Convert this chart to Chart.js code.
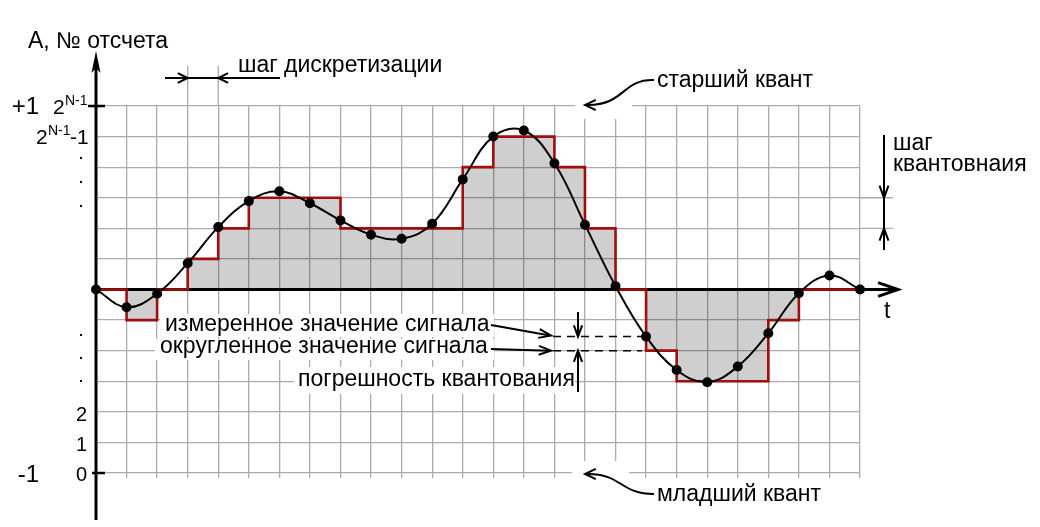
<!DOCTYPE html>
<html>
<head>
<meta charset="utf-8">
<script src="https://cdn.jsdelivr.net/npm/chart.js@4.4.1/dist/chart.umd.min.js"></script>
<style>
  html, body { margin: 0; padding: 0; background: #fff; }
  #wrap { width: 1040px; height: 527px; }
</style>
</head>
<body>
<div id="wrap"><canvas id="quantChart" width="1040" height="527"></canvas></div>
<script>
// sample numbers along t
const sampleNo = [0, 1, 2, 3, 4, 5, 6, 7, 8, 9, 10, 11, 12, 13, 14, 15, 16, 17, 18, 19, 20, 21, 22, 23, 24, 25];
// measured signal at each sample (in quantization steps)
const measured = [0, -0.58, -0.14, 0.86, 2.04, 2.89, 3.21, 2.82, 2.26, 1.79, 1.66, 2.15, 3.6, 5.0, 5.2, 4.13, 2.12, 0.11, -1.54, -2.63, -3.03, -2.52, -1.43, -0.12, 0.46, 0];
// rounded (quantized) value held until next sample
const rounded = [0, -1, 0, 1, 2, 3, 3, 3, 2, 2, 2, 2, 4, 5, 5, 4, 2, 0, -2, -3, -3, -3, -1, 0, 0, 0];
// y levels: -6 .. +6
const levelMin = -6;
const levelMax = 6;

const FONT = '"Liberation Sans", Arial, sans-serif';
const gridColor = '#ababab';

function chevron(ctx, x, y, ang, len, spread) {
    ctx.beginPath();
    ctx.moveTo(x - len * Math.cos(ang - spread), y - len * Math.sin(ang - spread));
    ctx.lineTo(x, y);
    ctx.lineTo(x - len * Math.cos(ang + spread), y - len * Math.sin(ang + spread));
    ctx.stroke();
}

function line(ctx, x1, y1, x2, y2) {
    ctx.beginPath();
    ctx.moveTo(x1, y1);
    ctx.lineTo(x2, y2);
    ctx.stroke();
}

const overlay = {
    id: 'overlay',
    beforeDatasetsDraw(chart) {
        const ctx = chart.ctx;
        const xs = chart.scales.x, ys = chart.scales.y;
        ctx.save();
        // white patches behind labels
        ctx.fillStyle = '#fff';
        ctx.fillRect(575, 94, 57, 25);
        ctx.fillRect(572, 461, 57, 25);
        ctx.fillRect(160, 314, 334, 23);
        ctx.fillRect(155, 339, 339, 21);
        ctx.fillRect(294, 367, 281, 27);
        // extended grid lines
        ctx.strokeStyle = gridColor;
        ctx.lineWidth = 1.3;
        line(ctx, xs.getPixelForValue(3), ys.getPixelForValue(levelMax), xs.getPixelForValue(3), 66);
        line(ctx, xs.getPixelForValue(4), ys.getPixelForValue(levelMax), xs.getPixelForValue(4), 66);
        line(ctx, xs.getPixelForValue(25), ys.getPixelForValue(3), 893, ys.getPixelForValue(3));
        line(ctx, xs.getPixelForValue(25), ys.getPixelForValue(2), 893, ys.getPixelForValue(2));
        ctx.restore();
    },
    afterDatasetDraw(chart, args) {
        if (args.index !== 0) return;
        const ctx = chart.ctx;
        const xs = chart.scales.x, ys = chart.scales.y;
        const x0 = xs.getPixelForValue(0), y0 = ys.getPixelForValue(0);
        ctx.save();
        ctx.strokeStyle = '#000';
        ctx.fillStyle = '#000';
        ctx.lineWidth = 3;
        // vertical axis
        line(ctx, x0, 520, x0, 60);
        ctx.beginPath();
        ctx.moveTo(x0, 51);
        ctx.lineTo(x0 + 4.5, 73);
        ctx.lineTo(x0, 68);
        ctx.lineTo(x0 - 4.5, 73);
        ctx.closePath();
        ctx.fill();
        // horizontal axis
        line(ctx, x0, y0, 896, y0);
        chevron(ctx, 898, y0, 0, 21, 0.33);
        // tick marks at +1 and -1
        ctx.lineWidth = 2.5;
        line(ctx, 88, ys.getPixelForValue(levelMax), 105, ys.getPixelForValue(levelMax));
        line(ctx, 92, ys.getPixelForValue(levelMin), 105, ys.getPixelForValue(levelMin));
        ctx.restore();
    },
    afterDraw(chart) {
        const ctx = chart.ctx;
        const xs = chart.scales.x, ys = chart.scales.y;
        ctx.save();
        ctx.fillStyle = '#000';
        ctx.strokeStyle = '#000';
        ctx.textBaseline = 'alphabetic';

        // left labels
        ctx.font = '23px ' + FONT;
        ctx.textAlign = 'left';
        ctx.fillText('A, № отсчета', 28, 48);
        ctx.font = '24px ' + FONT;
        ctx.textAlign = 'right';
        ctx.fillText('+1', 39, 114);
        ctx.fillText('-1', 39, 482);

        ctx.textAlign = 'left';
        ctx.font = '21px ' + FONT;
        ctx.fillText('2', 53, 114);
        ctx.font = '14px ' + FONT;
        ctx.fillText('N-1', 65, 105);
        ctx.font = '21px ' + FONT;
        ctx.fillText('2', 36, 144);
        ctx.font = '14px ' + FONT;
        ctx.fillText('N-1', 48, 135);
        ctx.font = '21px ' + FONT;
        ctx.fillText('-1', 70, 144);

        ctx.textAlign = 'right';
        ctx.font = '20px ' + FONT;
        [158, 182, 206, 335, 358, 381].forEach(y => ctx.fillRect(80, y - 1, 2, 2));
        ctx.fillText('2', 87, 421);
        ctx.fillText('1', 87, 451);
        ctx.fillText('0', 87, 481);

        // annotation texts
        ctx.textAlign = 'left';
        ctx.font = '23px ' + FONT;
        ctx.fillText('шаг дискретизации', 238, 72);
        ctx.fillText('старший квант', 657, 87);
        ctx.fillText('шаг', 893, 150);
        ctx.fillText('квантовнаия', 893, 171);
        ctx.fillText('t', 884, 318);
        ctx.fillText('измеренное значение сигнала', 165, 331);
        ctx.fillText('округленное значение сигнала', 160, 353);
        ctx.fillText('погрешность квантования', 298, 386);
        ctx.fillText('младший квант', 657, 501);

        // sampling step arrows
        ctx.lineWidth = 2;
        const xa = xs.getPixelForValue(3), xb = xs.getPixelForValue(4);
        line(ctx, 165, 78, 280, 78);
        chevron(ctx, xa, 78, 0, 11, 0.45);
        chevron(ctx, xb, 78, Math.PI, 11, 0.45);

        // quantization step arrows
        const ya = ys.getPixelForValue(3), yb = ys.getPixelForValue(2);
        line(ctx, 884, 135, 884, 250);
        chevron(ctx, 884, ya, Math.PI / 2, 13, 0.35);
        chevron(ctx, 884, yb, -Math.PI / 2, 13, 0.35);

        // most / least significant quantum
        ctx.beginPath();
        ctx.moveTo(654, 80);
        ctx.bezierCurveTo(622, 79, 625, 105, 588, 105);
        ctx.stroke();
        chevron(ctx, 585, 105, Math.PI, 12, 0.45);
        ctx.beginPath();
        ctx.moveTo(588, 474);
        ctx.bezierCurveTo(622, 474, 620, 494, 654, 494);
        ctx.stroke();
        chevron(ctx, 585, 474, Math.PI, 12, 0.45);

        // quantization error markers at sample 18
        const xe = xs.getPixelForValue(18);
        const ym = ys.getPixelForValue(measured[18]);
        const yr = ys.getPixelForValue(rounded[18]);
        ctx.lineWidth = 1.5;
        ctx.setLineDash([8, 6]);
        line(ctx, 553, ym, xe - 4, ym);
        line(ctx, 553, yr, xe - 4, yr);
        ctx.setLineDash([]);
        ctx.lineWidth = 2;
        line(ctx, 578, 312, 578, ym);
        chevron(ctx, 578, ym, Math.PI / 2, 12, 0.35);
        line(ctx, 578, 392, 578, yr);
        chevron(ctx, 578, yr, -Math.PI / 2, 12, 0.35);
        line(ctx, 491, 325, 550, ym - 1);
        chevron(ctx, 551, ym - 1, Math.atan2(ym - 1 - 325, 60), 13, 0.35);
        line(ctx, 491, 349, 550, yr);
        chevron(ctx, 551, yr, Math.atan2(yr - 349, 60), 13, 0.35);
        ctx.restore();
    }
};

new Chart(document.getElementById('quantChart').getContext('2d'), {
    type: 'line',
    data: {
        labels: sampleNo,
        datasets: [
            {
                label: 'fill',
                data: rounded,
                stepped: true,
                fill: 'origin',
                backgroundColor: 'rgba(0, 0, 0, 0.19)',
                borderWidth: 0,
                borderColor: 'rgba(0,0,0,0)',
                pointRadius: 0,
                order: 2
            },
            {
                label: 'округленное значение',
                data: rounded,
                stepped: true,
                fill: false,
                borderColor: '#a30d0d',
                borderWidth: 2.6,
                pointRadius: 0,
                order: 1
            },
            {
                label: 'измеренное значение',
                data: measured,
                fill: false,
                tension: 0.4,
                borderColor: '#000',
                borderWidth: 2,
                pointRadius: 4,
                pointBackgroundColor: '#000',
                pointBorderColor: '#000',
                order: 0
            }
        ]
    },
    options: {
        responsive: false,
        animation: false,
        layout: {
            padding: { left: 96, right: 180, top: 106, bottom: 49 }
        },
        scales: {
            x: {
                offset: false,
                ticks: { display: false },
                grid: { color: gridColor, lineWidth: 1.3, drawTicks: true, tickLength: 5 },
                border: { display: false }
            },
            y: {
                min: levelMin,
                max: levelMax,
                ticks: { display: false, stepSize: 1 },
                grid: { color: gridColor, lineWidth: 1.3, drawTicks: false },
                border: { display: false }
            }
        },
        plugins: {
            legend: { display: false },
            tooltip: { enabled: false }
        }
    },
    plugins: [overlay]
});
</script>
</body>
</html>
